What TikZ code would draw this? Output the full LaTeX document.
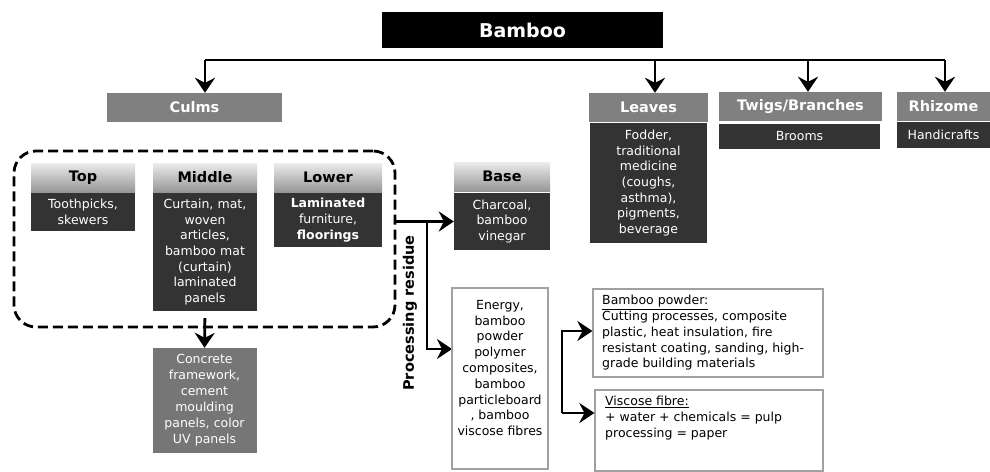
\documentclass[tikz,border=0pt]{standalone}
\usepackage{fontspec}
\setmainfont{DejaVu Sans}
\usetikzlibrary{arrows.meta}

\definecolor{groupgray}{HTML}{808080}
\definecolor{partlight}{HTML}{ECECEC}
\definecolor{partdark}{HTML}{969696}
\definecolor{usedark}{HTML}{333333}
\definecolor{slabgray}{HTML}{767676}
\definecolor{notegray}{HTML}{A0A0A0}

\tikzset{
  titlebox/.style={fill=black, text=white, font=\bfseries\fontsize{19}{21}\selectfont,
    minimum width=281pt, minimum height=36pt, inner sep=0pt},
  groupbox/.style={fill=groupgray, text=white, font=\bfseries\fontsize{14.5}{16}\selectfont,
    minimum height=29pt, inner sep=0pt},
  partbox/.style={top color=partlight, bottom color=partdark, text=black,
    font=\bfseries\fontsize{14.5}{16}\selectfont, minimum height=29pt, inner sep=0pt},
  usebox/.style={fill=usedark, text=white, font=\fontsize{12.5}{15.6}\selectfont,
    align=center, inner sep=0pt},
  slabbox/.style={fill=slabgray, text=white, font=\fontsize{12.5}{16}\selectfont,
    align=center, inner sep=0pt},
  notebox/.style={draw=notegray, line width=1.2pt, inner sep=0pt},
  notetext/.style={font=\fontsize{12.5}{15.8}\selectfont, inner sep=0pt},
  arr/.style={line width=2.8pt, -{Stealth[length=15pt,width=20pt,inset=5pt]}},
}

\begin{document}
\begin{tikzpicture}[x=1pt,y=-1pt]
\useasboundingbox (0,0) rectangle (990,471);

\node[titlebox] (bamboo) at (522.5,30) {Bamboo};

\node[groupbox, minimum width=175pt] (culms) at (194.5,107.5) {Culms};
\node[groupbox, minimum width=119pt] (leaves) at (648.5,107.5) {Leaves};
\node[groupbox, minimum width=163pt] (twigs) at (800.5,106.5) {Twigs/Branches};
\node[groupbox, minimum width=93pt] (rhizome) at (943.5,106.5) {Rhizome};

\node[usebox, minimum width=117pt, text width=111pt, minimum height=120pt] (leavesuse) at (648.5,183)
  {Fodder,\\traditional\\medicine\\(coughs,\\asthma),\\pigments,\\beverage};
\node[usebox, minimum width=161pt, minimum height=25pt] (twigsuse) at (799.5,136.5) {Brooms};
\node[usebox, minimum width=93pt, minimum height=26pt] (rhizomeuse) at (943.5,135) {Handicrafts};

\coordinate (busL) at (205,60);
\coordinate (busR) at (945,60);
\draw[line width=1.6pt] (busL) -- (busR);
\draw[arr] (busL) -- (busL |- culms.north);
\foreach \n/\x in {leaves/655, twigs/808, rhizome/945}
  \draw[arr] (\x,60) -- (\n.north -| \x,60);

\node[draw, line width=2.8pt, dash pattern=on 10pt off 5pt, rounded corners=22pt,
  minimum width=381pt, minimum height=176pt] (culmparts) at (204.5,239) {};

\node[partbox, minimum width=104pt] (top) at (83,177.5) {Top};
\node[usebox, minimum width=104pt, text width=100pt, minimum height=38pt] (topuse) at (83,212)
  {Toothpicks,\\skewers};
\node[partbox, minimum width=104pt] (middle) at (205,177.5) {Middle};
\node[usebox, minimum width=104pt, text width=100pt, minimum height=118pt] (middleuse) at (205,252)
  {Curtain, mat,\\woven\\articles,\\bamboo mat\\(curtain)\\laminated\\panels};
\node[partbox, minimum width=108pt] (lower) at (328,177.5) {Lower};
\node[usebox, minimum width=108pt, text width=104pt, minimum height=54pt] (loweruse) at (328,220)
  {\textbf{Laminated}\\furniture,\\\textbf{floorings}};
\node[partbox, minimum width=96pt] (base) at (502,176.5) {Base};
\node[usebox, minimum width=96pt, text width=92pt, minimum height=57pt] (baseuse) at (502,221.5)
  {Charcoal,\\bamboo\\vinegar};

\node[slabbox, minimum width=104pt, text width=102pt, minimum height=105pt] (slab) at (204.5,400.5)
  {Concrete\\framework,\\cement\\moulding\\panels, color\\UV panels};
\draw[arr, shorten <=7pt] (middleuse.south) -- (slab.north);

\node[rotate=90, font=\bfseries\fontsize{14.5}{16}\selectfont, inner sep=0pt] (residue) at (410,313)
  {Processing residue};
\coordinate (split) at (427,221.5);
\coordinate (energyin) at (452,349);
\draw[arr] (culmparts.east |- baseuse.west) -- (baseuse.west);
\draw[arr] (split) |- (energyin);

\node[notebox, minimum width=96pt, minimum height=181pt] (energy) at (500,378.5) {};
\node[notetext, align=center, anchor=north] (energytxt) at (500,300)
  {Energy,\\bamboo\\powder\\polymer\\composites,\\bamboo\\particleboard\\, bamboo\\viscose fibres};

\node[notebox, minimum width=230pt, minimum height=88pt] (powder) at (708,333) {};
\node[notetext, align=left, anchor=north west] (powdertxt) at (602,295)
  {\underline{Bamboo powder:}\\Cutting processes, composite\\plastic, heat insulation, fire\\resistant coating, sanding, high-\\grade building materials};
\node[notebox, minimum width=228pt, minimum height=81pt] (viscose) at (709,430.5) {};
\node[notetext, align=left, anchor=north west] (viscosetxt) at (605,396)
  {\underline{Viscose fibre:}\\+ water + chemicals = pulp\\processing = paper};

\coordinate (brtop) at (562,331);
\coordinate (brbot) at (562,413);
\draw[arr] (brbot) |- (powder.west |- brtop);
\draw[arr] (brbot) -- (viscose.west |- brbot);
\end{tikzpicture}
\end{document}
